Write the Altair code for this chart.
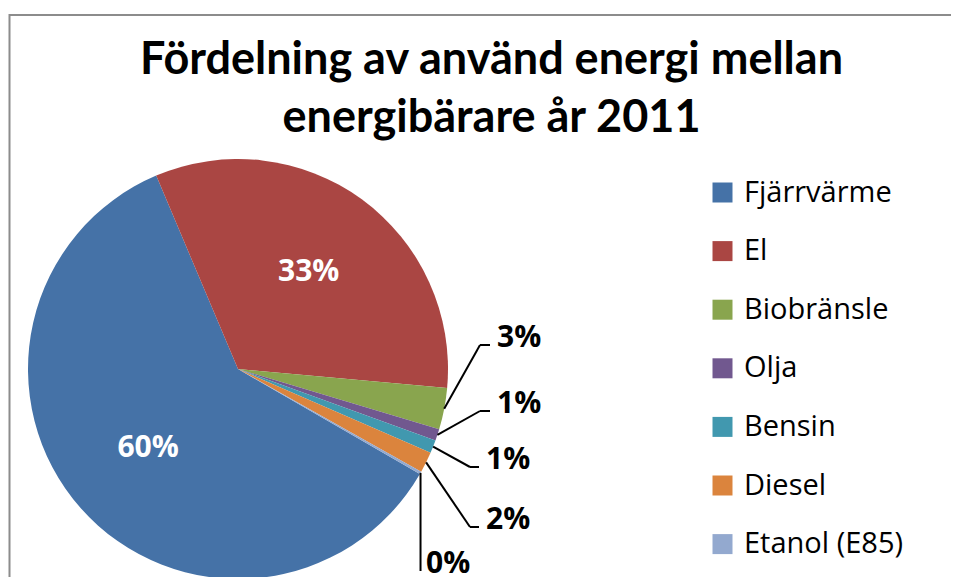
import math
import altair as alt
import pandas as pd

# ---------------- data ----------------
categories = ["Fjärrvärme", "El", "Biobränsle", "Olja", "Bensin", "Diesel", "Etanol (E85)"]
shares = [60.3, 32.8, 3.2, 0.9, 1.0, 1.6, 0.2]
colors = ["#4572A7", "#AA4643", "#89A54E", "#71588F", "#4198AF", "#DB843D", "#93A9CF"]
title_lines = ["Fördelning av använd energi mellan", "energibärare år 2011"]

# ---------------- layout ----------------
OFF = 8                      # page margin
TITLE_FONT = "Lato"
FONT = "Open Sans"
CX, CY, R = 238 - OFF, 369 - OFF, 210
START = 2 * math.pi * 120 / 360
# outside labels: text left x, baseline y, elbow x (page pixels)
outside_layout = {
    "Biobränsle": (497, 347, 480),
    "Olja": (497, 413, 480),
    "Bensin": (486, 469, 470),
    "Diesel": (486, 529, 470),
    "Etanol (E85)": (426, 573, None),
}

rows = []
for i, (c, s) in enumerate(zip(categories, shares)):
    lay = outside_layout.get(c)
    rows.append({
        "category": c, "share": s, "idx": i,
        "lx": (lay[0] - OFF) if lay else None,
        "lb": (lay[1] - OFF) if lay else None,
        "elbow": (lay[2] - OFF) if (lay and lay[2] is not None) else None,
    })
df = pd.DataFrame(rows)

base = alt.Chart(df).transform_joinaggregate(
    total="sum(share)"
).transform_window(
    cum="sum(share)", sort=[alt.SortField("idx", order="ascending")], frame=[None, 0]
).transform_calculate(
    ang=f"{START} + 2*PI*(datum.cum - datum.share/2)/datum.total",
    pct="format(datum.share/datum.total, '.0%')",
    inner="datum.share >= 5 ? format(datum.share/datum.total, '.0%') : ''",
).transform_calculate(
    ex=f"{CX} + {R}*sin(datum.ang)",
    ey=f"{CY} - {R}*cos(datum.ang)",
).transform_calculate(
    elbow_x="isValid(datum.elbow) ? datum.elbow : datum.ex",
    elbow_y="datum.lb - 2",
    end_x="datum.lx - 7",
)

theta = alt.Theta("share:Q", stack=True,
                  scale=alt.Scale(range=[START, START + 2 * math.pi]))

pie = base.mark_arc(outerRadius=R).encode(
    theta=theta,
    color=alt.Color(
        "category:N",
        scale=alt.Scale(domain=categories, range=colors),
        legend=alt.Legend(
            orient="none", legendX=700, legendY=170, title=None,
            symbolType="square", symbolSize=400, symbolStrokeWidth=0,
            labelFontSize=29, labelFont=FONT, labelColor="black",
            labelOffset=7, rowPadding=28.6, labelLimit=0,
        ),
    ),
    order=alt.Order("idx:Q"),
    x=alt.value(CX), y=alt.value(CY),
)

inner = base.mark_text(radius=120, font=FONT, fontSize=30, fontWeight="bold",
                       color="white", baseline="middle").encode(
    theta=alt.Theta("share:Q", stack=True),
    text="inner:N",
    order=alt.Order("idx:Q"),
    x=alt.value(CX), y=alt.value(CY),
)

outs = base.transform_filter("isValid(datum.lx)")

seg1 = outs.mark_rule(color="black", strokeWidth=2).encode(
    x=alt.X("ex:Q", scale=None, axis=None),
    y=alt.Y("ey:Q", scale=None, axis=None),
    x2="elbow_x:Q", y2="elbow_y:Q",
)
seg2 = outs.transform_filter("isValid(datum.elbow)").mark_rule(
    color="black", strokeWidth=2).encode(
    x=alt.X("elbow_x:Q", scale=None, axis=None),
    y=alt.Y("elbow_y:Q", scale=None, axis=None),
    x2="end_x:Q", y2="elbow_y:Q",
)
out_text = outs.mark_text(font=FONT, fontSize=30, fontWeight="bold", color="black",
                          align="left", baseline="alphabetic").encode(
    x=alt.X("lx:Q", scale=None, axis=None),
    y=alt.Y("lb:Q", scale=None, axis=None),
    text="pct:N",
)

frame = alt.Chart(pd.DataFrame({"a": [0]})).mark_rect(
    fill=None, stroke="#8c8c8c", strokeWidth=2).encode(
    x=alt.value(9.5 - OFF), y=alt.value(15 - OFF),
    x2=alt.value(1200), y2=alt.value(1200),
)

chart = alt.layer(frame, pie, inner, seg1, seg2, out_text).properties(
    width=943, height=569,
    autosize=alt.AutoSizeParams(type="none"),
    padding=0,
    background="white",
    title=alt.TitleParams(
        text=title_lines, font=TITLE_FONT, fontSize=45, fontWeight="bold", color="black",
        anchor="middle", frame="group", lineHeight=58, baseline="top",
        dx=12, dy=137,
    ),
).configure_view(stroke=None)

chart.save("out.html", embed_options={"renderer": "svg", "actions": False})
